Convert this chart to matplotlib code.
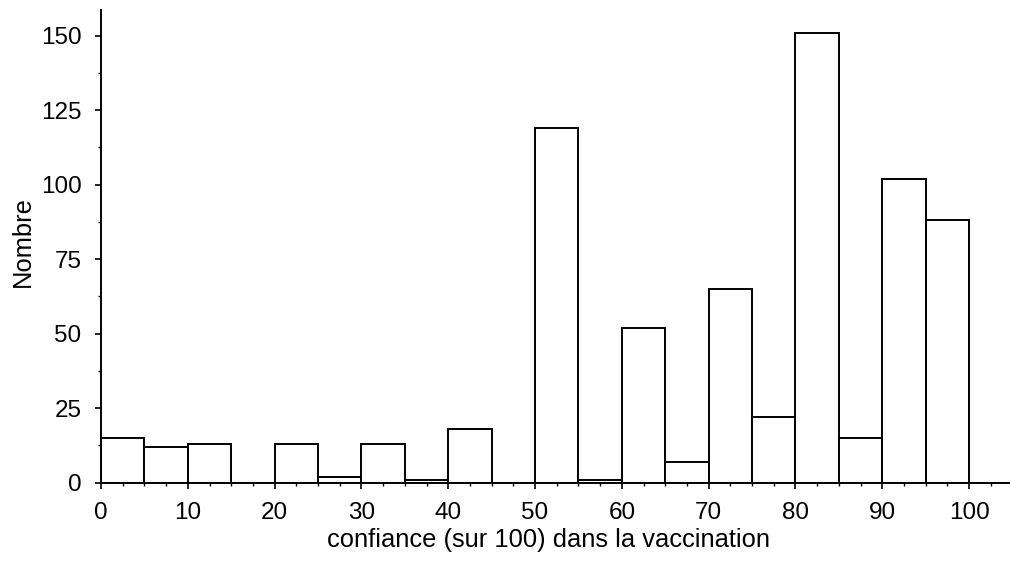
import matplotlib
matplotlib.use("Agg")
import matplotlib.pyplot as plt
from matplotlib.ticker import MultipleLocator

plt.rcParams['font.family'] = ['Liberation Sans', 'DejaVu Sans']

bin_starts = [0, 5, 10, 15, 20, 25, 30, 35, 40, 45, 50, 55, 60, 65, 70, 75, 80, 85, 90, 95, 100]
counts = [15, 12, 13, 0, 13, 2, 13, 1, 18, 0, 119, 1, 52, 7, 65, 22, 151, 15, 102, 88, 0]
bin_width = 5
xlabel = "confiance (sur 100) dans la vaccination"
ylabel = "Nombre"

fig = plt.figure(figsize=(10.10, 5.77), dpi=100)
ax = fig.add_axes([101/1010, (577-482.7)/577, 908/1010, (482.7-10)/577])

ax.bar(bin_starts, counts, width=bin_width, align='edge', color='white',
       edgecolor='black', linewidth=1.4, zorder=2)

ax.set_xlim(0, 104.6)
ax.set_ylim(0, 158.6)

for s in ['top', 'right']:
    ax.spines[s].set_visible(False)
for s in ['left', 'bottom']:
    ax.spines[s].set_linewidth(1.4)
    ax.spines[s].set_zorder(3)

ax.xaxis.set_major_locator(MultipleLocator(10))
ax.xaxis.set_minor_locator(MultipleLocator(2.5))
ax.yaxis.set_major_locator(MultipleLocator(25))
ax.yaxis.set_minor_locator(MultipleLocator(12.5))

ax.tick_params(axis='both', which='major', direction='out', length=4, width=1.2,
               labelsize=17.5, color='black')
ax.tick_params(axis='both', which='minor', direction='out', length=2.5, width=1.0, color='black')
ax.tick_params(axis='x', pad=10)
ax.tick_params(axis='y', pad=10)

ax.set_xlabel(xlabel, fontsize=18.4)
ax.set_ylabel(ylabel, fontsize=18.4)
ax.yaxis.set_label_coords(-0.073, 0.51)
ax.xaxis.set_label_coords(0.493, -0.095)

fig.savefig("out.png", dpi=100)
